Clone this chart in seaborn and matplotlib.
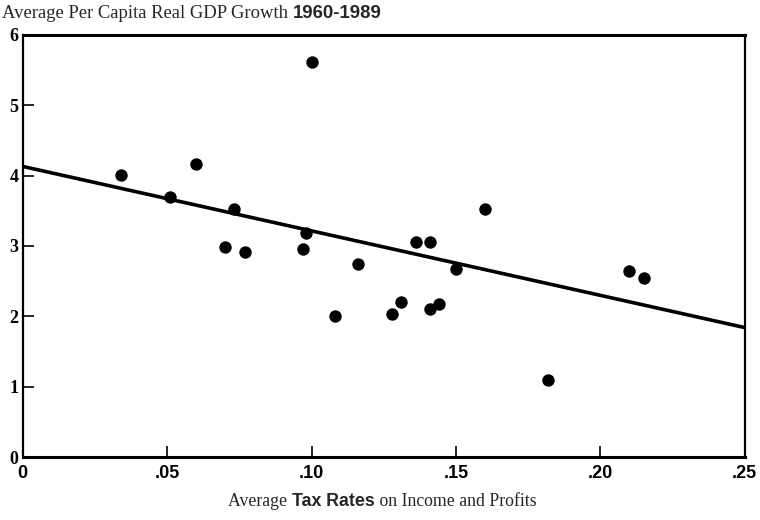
import matplotlib
matplotlib.use("Agg")
import matplotlib.pyplot as plt
import seaborn as sns
import pandas as pd

# Average tax rate on income and profits vs per capita GDP growth, 1960-1989
tax_rate = [0.034, 0.051, 0.060, 0.070, 0.073, 0.077, 0.097, 0.098, 0.100,
            0.108, 0.116, 0.128, 0.131, 0.136, 0.141, 0.141, 0.144, 0.150,
            0.160, 0.182, 0.210, 0.215]
gdp_growth = [4.01, 3.69, 4.17, 2.98, 3.52, 2.92, 2.96, 3.18, 5.62,
              2.00, 2.75, 2.04, 2.21, 3.06, 3.05, 2.10, 2.18, 2.67,
              3.52, 1.10, 2.64, 2.54]

# fitted line end points
fit_x = [0.0, 0.25]
fit_y = [4.13, 1.84]

x_ticks = [0, 0.05, 0.10, 0.15, 0.20, 0.25]
x_ticklabels = ["0", ".05", ".10", ".15", ".20", ".25"]
y_ticks = [0, 1, 2, 3, 4, 5, 6]

df = pd.DataFrame({"tax": tax_rate, "growth": gdp_growth})

sns.set_theme(style="white")
plt.rcParams["font.family"] = ["Liberation Serif", "DejaVu Serif"]

fig = plt.figure(figsize=(7.6, 5.2), dpi=100)
ax = fig.add_axes([0.030, 0.121, 0.950, 0.812])

ax.plot(fit_x, fit_y, color="black", linewidth=2.6, solid_capstyle="butt")
sns.scatterplot(data=df, x="tax", y="growth", color="black", s=80,
                edgecolor="black", linewidth=0, ax=ax, zorder=3)

ax.set_xlim(0, 0.25)
ax.set_ylim(0, 6)
ax.set_xticks(x_ticks)
ax.set_xticklabels(x_ticklabels, family="Liberation Sans", fontweight="bold",
                   fontsize=13)
ax.set_yticks(y_ticks)
ax.set_yticklabels([str(v) for v in y_ticks], family="Liberation Serif",
                   fontweight="bold", fontsize=13)
ax.tick_params(axis="both", direction="in", length=8, width=1.2,
               colors="black", left=True, bottom=True)
ax.tick_params(axis="x", pad=6)
ax.tick_params(axis="y", pad=3)
ax.set_xlabel("")
ax.set_ylabel("")
for side, lw in {"left": 1.6, "bottom": 2.2, "top": 2.2, "right": 1.6}.items():
    ax.spines[side].set_visible(True)
    ax.spines[side].set_color("black")
    ax.spines[side].set_linewidth(lw)


def mixed_text(x, y, parts, size, ha="left"):
    # parts: list of (text, family, weight)
    renderer = fig.canvas.get_renderer()
    items = []
    total = 0.0
    for txt, fam, wt in parts:
        t = fig.text(0, 0, txt, family=fam, fontweight=wt, fontsize=size,
                     va="baseline", ha="left")
        w = t.get_window_extent(renderer).width
        items.append((t, w))
        total += w
    x0 = x * fig.bbox.width
    if ha == "center":
        x0 -= total / 2
    for t, w in items:
        t.set_position((x0 / fig.bbox.width, y))
        x0 += w


mixed_text(0.003, 0.966, [("Average Per Capita Real GDP Growth ", "Liberation Serif", "normal"),
                          ("1960-1989", "Liberation Sans", "bold")], 13.4)
mixed_text(0.503, 0.026, [("Average ", "Liberation Serif", "normal"),
                          ("Tax Rates", "Liberation Sans", "bold"),
                          (" on Income and Profits", "Liberation Serif", "normal")],
           12.8, ha="center")

fig.savefig("out.png", dpi=100)
